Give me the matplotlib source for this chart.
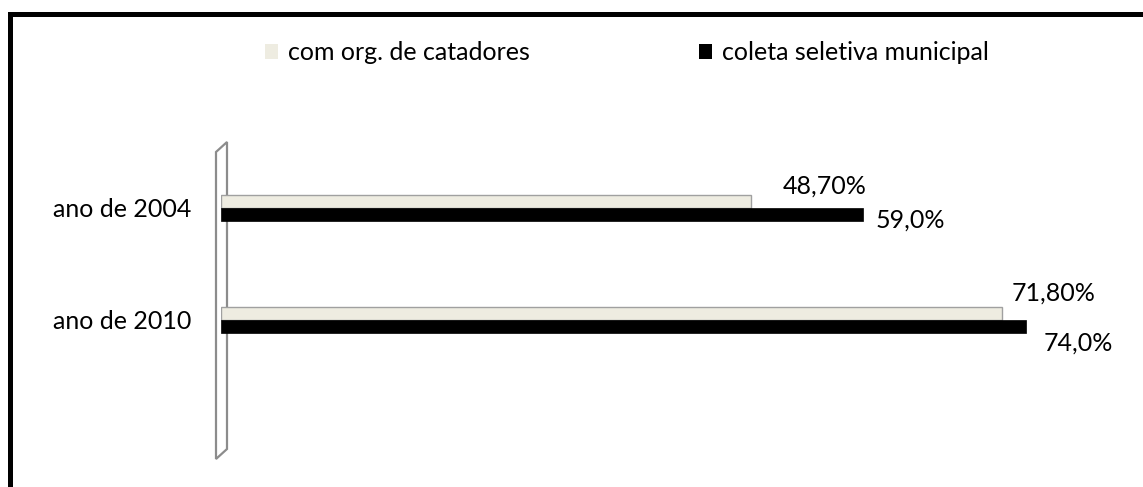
import matplotlib.pyplot as plt
from matplotlib.patches import Rectangle, Polygon

plt.rcParams['font.family'] = ['Lato', 'DejaVu Sans']

categories = ['ano de 2004', 'ano de 2010']
catadores = [48.70, 71.80]
municipal = [59.0, 74.0]
catadores_labels = ['48,70%', '71,80%']
municipal_labels = ['59,0%', '74,0%']
series_names = ['com org. de catadores', 'coleta seletiva municipal']

# label offsets in points (dx, dy), as placed in the original
cat_off = [(23, 6), (7, 10)]
mun_off = [(9, -4), (13, -11.5)]

FS = 18
W, H = 1143, 487
fig = plt.figure(figsize=(W / 100, H / 100), dpi=100)

# axes placed in pixel terms: x 221..1091, y 142..459
ax = fig.add_axes([221 / W, 1 - 459 / H, 870 / W, 317 / H])
ax.set_xlim(0, 80)
ax.set_ylim(-1.241, 1.589)

ypos = [1, 0]
h = 0.12
ax.barh([y + h / 2 for y in ypos], catadores, height=h, color='#EEECE1',
        edgecolor='#a0a0a0', linewidth=1.0, zorder=3)
ax.barh([y - h / 2 for y in ypos], municipal, height=h, color='black',
        edgecolor='black', linewidth=0.5, zorder=3)

for y, v, t, o in zip(ypos, catadores, catadores_labels, cat_off):
    ax.annotate(t, (v, y + h), xytext=o, textcoords='offset points',
                fontsize=FS, va='center', ha='left', annotation_clip=False)
for y, v, t, o in zip(ypos, municipal, municipal_labels, mun_off):
    ax.annotate(t, (v, y - h / 2), xytext=o, textcoords='offset points',
                fontsize=FS, va='center', ha='left', annotation_clip=False)

ax.set_yticks(ypos)
ax.set_yticklabels(categories, fontsize=FS)
ax.tick_params(axis='y', length=0, pad=21)
ax.set_xticks([])
for s in ax.spines.values():
    s.set_visible(False)
ax.patch.set_visible(False)

# 3d wall behind the category axis
wall = Polygon([(216 / W, 1 - 152 / H), (227 / W, 1 - 142 / H),
                (227 / W, 1 - 449 / H), (216 / W, 1 - 459 / H)],
               closed=True, transform=fig.transFigure, facecolor='none',
               edgecolor='#8c8c8c', linewidth=1.6, zorder=-1)
fig.patches.append(wall)

# legend
handles = [Rectangle((0, 0), 1, 1, facecolor='#EEECE1', edgecolor='none'),
           Rectangle((0, 0), 1, 1, facecolor='black', edgecolor='none')]
fig.legend(handles, series_names, loc='center left', bbox_to_anchor=(265 / W, 1 - 53 / H),
           ncol=2, frameon=False, fontsize=FS, handlelength=0.52, handleheight=0.52,
           handletextpad=0.38, columnspacing=6.8, borderpad=0, borderaxespad=0)

# outer chart border (runs off the right and bottom edges)
border = Rectangle((9.5 / W, -0.1), 1.2, 1 - 14 / H + 0.1, transform=fig.transFigure,
                   fill=False, edgecolor='black', linewidth=3.6)
fig.patches.append(border)

fig.savefig('out.png', dpi=100)
